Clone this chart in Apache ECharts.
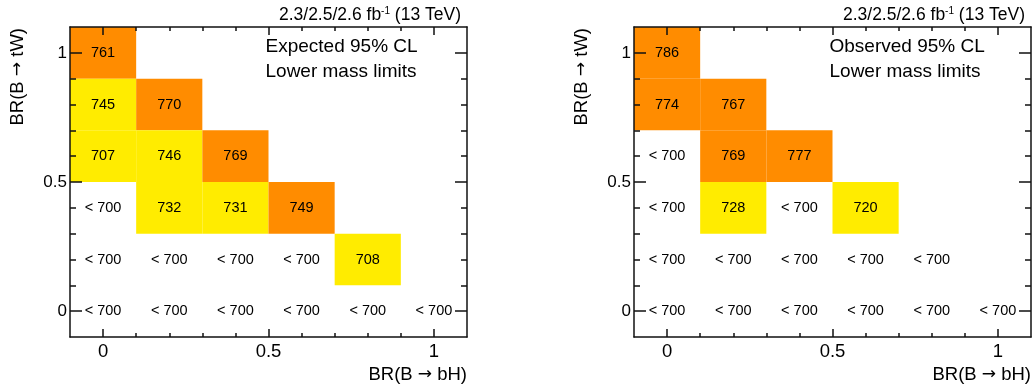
<!DOCTYPE html>
<html>
<head>
<meta charset="utf-8">
<script src="https://cdn.jsdelivr.net/npm/echarts@6/dist/echarts.min.js"></script>
<style>
  html, body { margin: 0; padding: 0; background: #fff; }
  #chart { width: 1035px; height: 390px; }
</style>
</head>
<body>
<div id="chart"></div>
<script>
// Grid points: BR(B -> bH) along x, BR(B -> tW) along y (one row per tW value)
const bhPoints = [0, 0.2, 0.4, 0.6, 0.8, 1.0];
const twRows = [1.0, 0.8, 0.6, 0.4, 0.2, 0.0];

// Lower mass limits in GeV; null means the limit is below 700 GeV
const expectedLimits = [
  [761],
  [745, 770],
  [707, 746, 769],
  [null, 732, 731, 749],
  [null, null, null, null, 708],
  [null, null, null, null, null, null]
];
const observedLimits = [
  [786],
  [774, 767],
  [null, 769, 777],
  [null, 728, null, 720],
  [null, null, null, null, null],
  [null, null, null, null, null, null]
];

// Colour bands for the limits
const limitFloor = 700;
const strongLimit = 748;
const belowFloorText = '< 700';

// Axis ticks
const majorTicks = [0, 0.5, 1];
const minorTicks = [0, 0.1, 0.2, 0.3, 0.4, 0.5, 0.6, 0.7, 0.8, 0.9, 1.0];

// Panel texts
const panelTitles = ['Expected 95% CL', 'Observed 95% CL'];
const panelSubtitle = 'Lower mass limits';
const lumiText = '{m|2.3/2.5/2.6 fb}{s|-1}{m| (13 TeV)}';
const xTitle = '{t|BR(B }{a|\u2192}{t| bH)}';
const yTitle = '{t|BR(B }{a|\u2192}{t| tW)}';

const FONT = '"Liberation Sans", Arial, Helvetica, sans-serif';
const ARROW_FONT = '"DejaVu Sans", sans-serif';
const CELL_HALF = 0.1;
const AXIS_MIN = -0.1, AXIS_MAX = 1.1;

const titleRich = {
  t: { fontSize: 18.5, fontFamily: FONT, fill: '#000' },
  a: { fontSize: 17, fontFamily: ARROW_FONT, fill: '#000' }
};

function toCells(limits) {
  const out = [];
  limits.forEach((row, i) => {
    row.forEach((v, j) => {
      out.push([bhPoints[j], twRows[i], v === null ? 0 : v]);
    });
  });
  return out;
}

function renderCell(params, api) {
  const bh = api.value(0), tw = api.value(1), lim = api.value(2);
  const p0 = api.coord([bh - CELL_HALF, tw + CELL_HALF]);
  const p1 = api.coord([bh + CELL_HALF, tw - CELL_HALF]);
  const c = api.coord([bh, tw]);
  const filled = lim >= limitFloor;
  return {
    type: 'group',
    children: [
      {
        type: 'rect',
        shape: { x: p0[0], y: p0[1], width: p1[0] - p0[0], height: p1[1] - p0[1] },
        style: { fill: filled ? api.visual('color') : 'rgba(0,0,0,0)' }
      },
      {
        type: 'text',
        x: c[0], y: c[1],
        style: {
          text: filled ? String(lim) : belowFloorText,
          align: 'center', verticalAlign: 'middle',
          fontSize: 14.5, fontFamily: FONT, fill: '#000'
        }
      }
    ]
  };
}

const panelLefts = [70, 634];
const gridW = 397, gridTop = 27, gridH = 310;

const grids = [], xAxes = [], yAxes = [], series = [], graphics = [];
const lineStyle = { color: '#111', width: 1.5 };

panelLefts.forEach((left, p) => {
  const gMain = grids.length;
  grids.push({ left: left, top: gridTop, width: gridW, height: gridH });
  grids.push({ left: left, top: gridTop, width: gridW, height: gridH });
  const gMinor = gMain + 1;

  const xBase = { type: 'value', min: AXIS_MIN, max: AXIS_MAX, splitLine: { show: false }, z: 5 };
  // major ticks + labels (bottom), major ticks (top)
  xAxes.push(Object.assign({}, xBase, {
    gridIndex: gMain, position: 'bottom',
    axisLine: { show: true, onZero: false, lineStyle },
    axisTick: { show: true, inside: true, length: 8, customValues: majorTicks, lineStyle },
    axisLabel: { show: true, customValues: majorTicks, margin: 5, fontSize: 18.5, fontFamily: FONT, color: '#000' }
  }));
  xAxes.push(Object.assign({}, xBase, {
    gridIndex: gMain, position: 'top',
    axisLine: { show: true, onZero: false, lineStyle },
    axisTick: { show: true, inside: true, length: 8, customValues: majorTicks, lineStyle },
    axisLabel: { show: false }
  }));
  // minor ticks on both horizontal edges
  xAxes.push(Object.assign({}, xBase, {
    gridIndex: gMinor, position: 'bottom',
    axisLine: { show: false, onZero: false },
    axisTick: { show: true, inside: true, length: 4, customValues: minorTicks, lineStyle },
    axisLabel: { show: false }
  }));
  xAxes.push(Object.assign({}, xBase, {
    gridIndex: gMinor, position: 'top',
    axisLine: { show: false, onZero: false },
    axisTick: { show: true, inside: true, length: 4, customValues: minorTicks, lineStyle },
    axisLabel: { show: false }
  }));

  const yBase = { type: 'value', min: AXIS_MIN, max: AXIS_MAX, splitLine: { show: false }, z: 5 };
  yAxes.push(Object.assign({}, yBase, {
    gridIndex: gMain, position: 'left',
    axisLine: { show: true, onZero: false, lineStyle },
    axisTick: { show: true, inside: true, length: 12, customValues: majorTicks, lineStyle },
    axisLabel: { show: true, customValues: majorTicks, margin: 3, fontSize: 17, fontFamily: FONT, color: '#000' }
  }));
  yAxes.push(Object.assign({}, yBase, {
    gridIndex: gMain, position: 'right',
    axisLine: { show: true, onZero: false, lineStyle },
    axisTick: { show: true, inside: true, length: 12, customValues: majorTicks, lineStyle },
    axisLabel: { show: false }
  }));
  // minor ticks on both vertical edges
  yAxes.push(Object.assign({}, yBase, {
    gridIndex: gMinor, position: 'left',
    axisLine: { show: false, onZero: false },
    axisTick: { show: true, inside: true, length: 6, customValues: minorTicks, lineStyle },
    axisLabel: { show: false }
  }));
  yAxes.push(Object.assign({}, yBase, {
    gridIndex: gMinor, position: 'right',
    axisLine: { show: false, onZero: false },
    axisTick: { show: true, inside: true, length: 6, customValues: minorTicks, lineStyle },
    axisLabel: { show: false }
  }));

  const axisIdx = p * 4;
  series.push({
    type: 'custom',
    name: panelTitles[p],
    xAxisIndex: axisIdx, yAxisIndex: axisIdx,
    renderItem: renderCell,
    encode: { x: 0, y: 1 },
    data: toCells(p === 0 ? expectedLimits : observedLimits),
    z: 1,
    clip: false,
    silent: true
  });

  const right = left + gridW;
  graphics.push({
    type: 'text', x: right - 6, y: 15,
    style: {
      text: lumiText, align: 'right', verticalAlign: 'middle', fill: '#000',
      rich: {
        m: { fontSize: 17.5, fontFamily: FONT, fill: '#000' },
        s: { fontSize: 10, fontFamily: FONT, fill: '#000', verticalAlign: 'top' }
      }
    }
  });
  graphics.push({
    type: 'text', x: left + 195.5, y: 47,
    style: { text: panelTitles[p], align: 'left', verticalAlign: 'middle', fontSize: 19, fontFamily: FONT, fill: '#000' }
  });
  graphics.push({
    type: 'text', x: left + 195.5, y: 72,
    style: { text: panelSubtitle, align: 'left', verticalAlign: 'middle', fontSize: 19, fontFamily: FONT, fill: '#000' }
  });
  graphics.push({
    type: 'text', x: right, y: 375,
    style: { text: xTitle, rich: titleRich, align: 'right', verticalAlign: 'middle' }
  });
  graphics.push({
    type: 'text', x: left - 52.5, y: 28, rotation: Math.PI / 2,
    style: { text: yTitle, rich: titleRich, align: 'right', verticalAlign: 'middle' }
  });
});

const chart = echarts.init(document.getElementById('chart'), null, { renderer: 'canvas' });
chart.setOption({
  animation: false,
  backgroundColor: '#fff',
  grid: grids,
  xAxis: xAxes,
  yAxis: yAxes,
  visualMap: {
    show: false,
    type: 'piecewise',
    dimension: 2,
    seriesIndex: [0, 1],
    pieces: [
      { lt: limitFloor, color: 'rgba(0,0,0,0)' },
      { gte: limitFloor, lt: strongLimit, color: '#ffec00' },
      { gte: strongLimit, color: '#ff8c00' }
    ]
  },
  series: series,
  graphic: graphics
});
</script>
</body>
</html>
